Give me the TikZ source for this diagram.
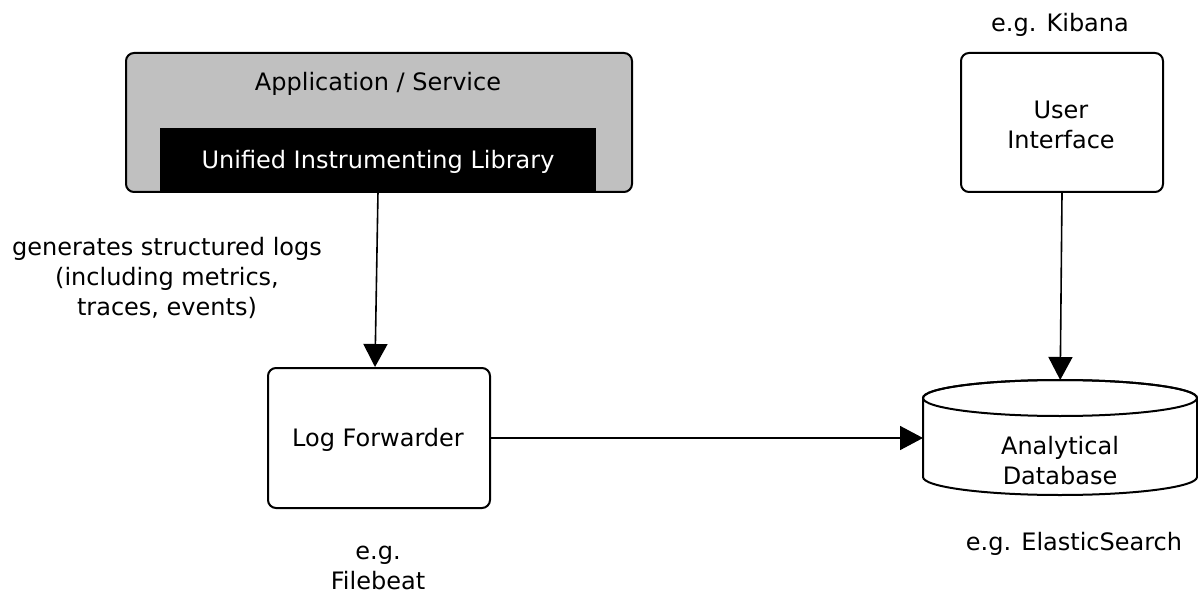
\documentclass[tikz,border=0pt]{standalone}
\usepackage{fontspec}
\setmainfont{DejaVu Sans}
\usetikzlibrary{arrows.meta}
\definecolor{appgray}{RGB}{192,192,192}
\begin{document}
\begin{tikzpicture}[x=1pt,y=-1pt,
  every node/.style={font=\fontsize{24}{30}\selectfont, align=center},
  box/.style={draw, line width=2pt, rounded corners=8pt, fill=white},
  conn/.style={line width=1.6pt, -{Triangle[length=23pt,width=24pt]}},
  lbl/.style={inner sep=0pt}]
\useasboundingbox (0,0) rectangle (1198,593);
% Application / Service
\node[box, fill=appgray, minimum width=506pt, minimum height=139pt, anchor=north west] (app) at (125,52) {};
\node[lbl] (apptext) at (378,84) {Application / Service};
\node[fill=black, minimum width=436pt, minimum height=63pt, inner sep=0pt, anchor=south west] (lib) at (160,191) {};
\node[lbl, text=white] (libtext) at (378,162) {Unified Instrumenting Library};
% Log forwarder
\node[box, minimum width=222pt, minimum height=140pt, anchor=north west] (fwd) at (267,367) {};
\node[lbl] (fwdtext) at (378,440) {Log Forwarder};
% User interface
\node[box, minimum width=202pt, minimum height=139pt, anchor=north west] (ui) at (960,52) {};
\node[lbl] (uitext) at (1061,125) {User\\Interface};
% Database cylinder
\draw[line width=2pt, fill=white] (923,398) -- (923,477) arc[start angle=180, end angle=360, x radius=137pt, y radius=18pt] -- (1197,398) arc[start angle=0, end angle=180, x radius=137pt, y radius=18pt] -- cycle;
\draw[line width=2pt] (1060,398) ellipse[x radius=137pt, y radius=18pt];
\node[minimum width=274pt, minimum height=115pt, anchor=north west, inner sep=0pt] (db) at (923,380) {};
\node[lbl] (dbtext) at (1060,461) {Analytical\\Database};
% labels
\node[lbl] (kib) at (1060,25) {e.g. Kibana};
\node[lbl] (es) at (1074,544) {e.g. ElasticSearch};
\node[lbl] (fb) at (378,568) {e.g.\\Filebeat};
\node[lbl] (gen) at (167,278) {generates structured logs\\(including metrics,\\traces, events)};
% connectors
\coordinate (libout) at (378,191);
\coordinate (fwdin) at (375,367);
\draw[conn] (libout) -- (fwdin);
\draw[conn] (fwd.east) -- (db.west |- fwd.east);
\draw[conn] (ui.south) -- (db.north);
\end{tikzpicture}
\end{document}
